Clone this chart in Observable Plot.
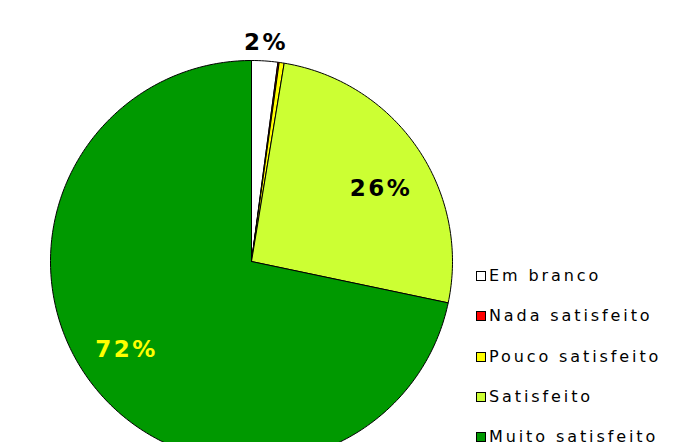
<!DOCTYPE html>
<html>
<head>
<meta charset="utf-8">
<script src="https://cdn.jsdelivr.net/npm/d3@7"></script>
<script src="https://cdn.jsdelivr.net/npm/@observablehq/plot@0.6"></script>
<style>
  html, body { margin: 0; padding: 0; background: #fff; overflow: hidden; }
  #wrap { position: relative; width: 690px; height: 442px; overflow: hidden; }
  #chart svg text { font-family: "DejaVu Sans", Verdana, sans-serif; font-weight: bold; letter-spacing: 2.5px; }
  #legend { position: absolute; left: 476px; top: 266px; font-family: "DejaVu Sans", Verdana, sans-serif; font-size: 16px; letter-spacing: 2.9px; color: #000; }
  #legend .row { display: flex; align-items: center; height: 40.3px; }
  #legend .sw { width: 8px; height: 8px; border: 1px solid #000; margin-right: 3px; flex: none; }
  #legend .row span { line-height: 1; position: relative; top: -10px; }
</style>
</head>
<body>
<div id="wrap">
  <div id="chart"></div>
  <div id="legend"></div>
</div>
<script>
const categories = ["Em branco", "Nada satisfeito", "Pouco satisfeito", "Satisfeito", "Muito satisfeito"];
const values = [2.1, 0.1, 0.4, 25.7, 71.7];
const labels = ["2%", "", "", "26%", "72%"];
const colors = ["#ffffff", "#ff0000", "#ffff00", "#ccff33", "#009900"];
const labelColors = ["#000000", "#000000", "#000000", "#000000", "#ffff00"];
const labelRadius = [1.09, 0, 0, 0.74, 0.76];
const labelAngleShift = [0, 0, 0, 5, 4];

const total = d3.sum(values);
const arcs = [];
const labelData = [];
let acc = 0;
values.forEach((v, i) => {
  const a0 = acc / total * 2 * Math.PI;
  acc += v;
  const a1 = acc / total * 2 * Math.PI;
  const n = Math.max(3, Math.ceil((a1 - a0) / (2 * Math.PI) * 360));
  arcs.push({cat: categories[i], color: colors[i], x: 0, y: 0});
  for (let k = 0; k <= n; k++) {
    const a = a0 + (a1 - a0) * k / n;
    arcs.push({cat: categories[i], color: colors[i], x: Math.sin(a), y: Math.cos(a)});
  }
  arcs.push({cat: categories[i], color: colors[i], x: 0, y: 0});
  if (labels[i]) {
    const am = (a0 + a1) / 2 + labelAngleShift[i] * Math.PI / 180;
    labelData.push({text: labels[i], color: labelColors[i], x: labelRadius[i] * Math.sin(am), y: labelRadius[i] * Math.cos(am)});
  }
});

const R = 201, cx = 251, cy = 261;
const plot = Plot.plot({
  width: 690,
  height: 442,
  margin: 0,
  x: {domain: [-1, 1], range: [cx - R, cx + R], axis: null},
  y: {domain: [-1, 1], range: [cy + R, cy - R], axis: null},
  marks: [
    Plot.line(arcs, {x: "x", y: "y", z: "cat", fill: "color", stroke: "#000", strokeWidth: 1, strokeLinejoin: "miter", curve: "linear"}),
    Plot.text(labelData, {x: "x", y: "y", text: "text", fill: "color", fontSize: 23})
  ]
});
plot.style.overflow = "hidden";
document.getElementById("chart").appendChild(plot);

const legend = document.getElementById("legend");
categories.forEach((c, i) => {
  const row = document.createElement("div");
  row.className = "row";
  const sw = document.createElement("div");
  sw.className = "sw";
  sw.style.background = colors[i];
  sw.style.position = "relative";
  sw.style.top = "-10px";
  const t = document.createElement("span");
  t.textContent = c;
  row.appendChild(sw);
  row.appendChild(t);
  legend.appendChild(row);
});
</script>
</body>
</html>
